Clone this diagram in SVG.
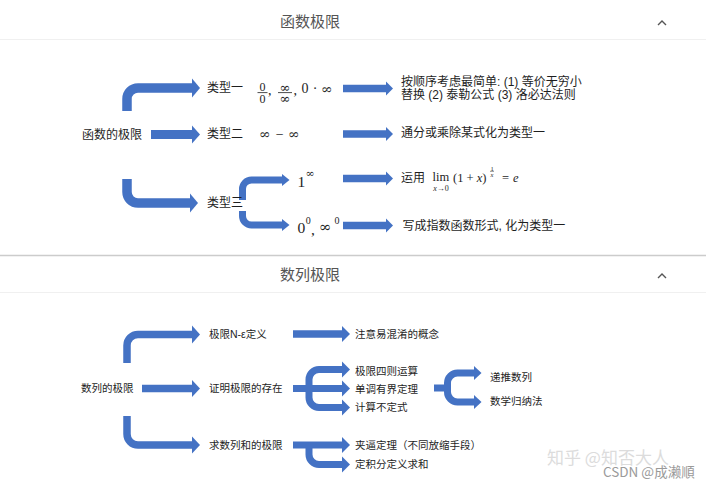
<svg xmlns="http://www.w3.org/2000/svg" width="720" height="488" viewBox="0 0 720 488">
<style>
.t{font-family:'Liberation Sans','Noto Sans CJK SC',sans-serif;fill:#1e1e1e;dominant-baseline:central}
.t1{font-size:12px}
.t2{font-size:10.5px}
.hd{font-family:'Noto Sans CJK SC',sans-serif;font-size:15px;fill:#555;text-anchor:middle;dominant-baseline:central}
.m{font-family:'Liberation Serif','DejaVu Serif',serif;fill:#1e1e1e;dominant-baseline:central}
.inf{font-family:'DejaVu Serif','Liberation Serif',serif;fill:#1e1e1e;dominant-baseline:central}
.i{font-style:italic}
.b{fill:none;stroke:#4472C4;stroke-linejoin:round}
.h{fill:#4472C4}
.car{fill:none;stroke:#555;stroke-width:1.4}
.wm{font-family:'Noto Sans CJK SC',sans-serif;dominant-baseline:central}
</style>
<rect width="720" height="488" fill="#fff"/>
<g id="header1">
<text class="hd" x="310" y="20">函数极限</text>
<polyline class="car" points="658,25 662,21 666,25"/>
<line x1="0" y1="39.5" x2="706" y2="39.5" stroke="#f0f0f0" stroke-width="1"/>
</g>
<g id="header2">
<line x1="0" y1="255.5" x2="706" y2="255.5" stroke="#cccccc" stroke-width="1.5"/>
<text class="hd" x="310" y="273">数列极限</text>
<polyline class="car" points="658,278 662,274 666,278"/>
<line x1="0" y1="292.5" x2="706" y2="292.5" stroke="#f0f0f0" stroke-width="1"/>
</g>
<g id="connectors">
<path class="b" stroke-width="9.5" d="M127 111 V99 A11 11 0 0 1 138 88 H192"/>
<polygon class="h" points="192,78.5 200,88 192,97.5"/>
<path class="b" stroke-width="9" d="M151 134.5 H192"/>
<polygon class="h" points="192,125.5 200,134.5 192,143.5"/>
<path class="b" stroke-width="9.5" d="M127 179 V192 A11 11 0 0 0 138 203 H190"/>
<polygon class="h" points="190,193.5 198,203 190,212.5"/>
<path class="b" stroke-width="7" d="M242.5 200 V189 A9 9 0 0 1 251.5 180 H282"/>
<polygon class="h" points="282,174 289.5,180 282,186"/>
<path class="b" stroke-width="7" d="M242.5 211 V216 A9 9 0 0 0 251.5 225 H282"/>
<polygon class="h" points="282,219 289.5,225 282,231"/>
<path class="b" stroke-width="7.5" d="M343 88.5 H386 M343 134 H386 M343 178.5 H386 M343 225.5 H386"/>
<polygon class="h" points="386,81.5 393,88.5 386,95.5"/>
<polygon class="h" points="386,127 393,134 386,141"/>
<polygon class="h" points="386,171.5 393,178.5 386,185.5"/>
<polygon class="h" points="386,218.5 393,225.5 386,232.5"/>

<path class="b" stroke-width="7.5" d="M127 363 V345.5 A11 11 0 0 1 138 334.5 H192"/>
<polygon class="h" points="192,325.5 200,334.5 192,343.5"/>
<path class="b" stroke-width="7.5" d="M142 388.5 H192"/>
<polygon class="h" points="192,380 200,388.5 192,397"/>
<path class="b" stroke-width="7.5" d="M127 416 V434 A11 11 0 0 0 138 445 H192"/>
<polygon class="h" points="192,436.5 200,445 192,453.5"/>
<path class="b" stroke-width="7.5" d="M293 334 H342"/>
<polygon class="h" points="342,326 350,334 342,342"/>
<path class="b" stroke-width="7" d="M293 388.5 H342 M342 369.5 H319 A10 10 0 0 0 309 379.5 V397.5 A10 10 0 0 0 319 407.5 H342"/>
<polygon class="h" points="342,361.5 350,369.5 342,377.5"/>
<polygon class="h" points="342,380.5 350,388.5 342,396.5"/>
<polygon class="h" points="342,399.5 350,407.5 342,415.5"/>
<path class="b" stroke-width="7" d="M293 445 H342 M309 445 V454.5 A10 10 0 0 0 319 464.5 H342"/>
<polygon class="h" points="342,437 350,445 342,453"/>
<polygon class="h" points="342,456.5 350,464.5 342,472.5"/>
<path class="b" stroke-width="7" d="M434 388 H447.5 M474 373 H457.5 A10 10 0 0 0 447.5 383 V392 A10 10 0 0 0 457.5 402 H474"/>
<polygon class="h" points="474,366 481.5,373 474,380"/>
<polygon class="h" points="474,395 481.5,402 474,409"/>
</g>

<g id="n-hanshu"><text class="t t1" x="82" y="135">函数的极限</text></g>
<g id="n-type1"><text class="t t1" x="207" y="88">类型一</text>
<text class="m" font-size="12" x="262.5" y="86.8" text-anchor="middle">0</text>
<line x1="257.5" y1="92.6" x2="267.5" y2="92.6" stroke="#1e1e1e" stroke-width="0.8"/>
<text class="m" font-size="12" x="262.5" y="98.6" text-anchor="middle">0</text>
<text class="m" font-size="14" x="268" y="90">,</text>
<text class="inf" font-size="13" x="285" y="87" text-anchor="middle">∞</text>
<line x1="278" y1="92.6" x2="292" y2="92.6" stroke="#1e1e1e" stroke-width="0.8"/>
<text class="inf" font-size="13" x="285" y="98.6" text-anchor="middle">∞</text>
<text class="m" font-size="14" x="293.5" y="90">,</text>
<text class="m" font-size="14" x="301.5" y="88.7">0</text>
<text class="m" font-size="14" x="315" y="88.7" text-anchor="middle">·</text>
<text class="inf" font-size="14" x="321" y="88.7">∞</text>
</g>
<g id="n-type2"><text class="t t1" x="207" y="134">类型二</text>
<text class="inf" font-size="14" x="259" y="134">∞</text>
<text class="m" font-size="14" x="279.7" y="134" text-anchor="middle">−</text>
<text class="inf" font-size="14" x="288" y="134">∞</text>
</g>
<g id="n-type3"><text class="t t1" x="207" y="203.3">类型三</text></g>
<g id="n-1inf">
<text class="m" font-size="15.5" x="297.5" y="181.7">1</text>
<text class="inf" font-size="11" x="305.5" y="173.3">∞</text>
</g>
<g id="n-00">
<text class="m" font-size="15.5" x="297.5" y="227">0</text>
<text class="m" font-size="10" x="305.8" y="220.3">0</text>
<text class="m" font-size="15.5" x="311" y="229">,</text>
<text class="inf" font-size="15" x="319" y="227">∞</text>
<text class="m" font-size="10" x="334.5" y="220.3">0</text>
</g>
<g id="n-r1">
<text class="t t1" x="401" y="81.7">按顺序考虑最简单: (1) 等价无穷小</text>
<text class="t t1" x="401" y="94.5">替换 (2) 泰勒公式 (3) 洛必达法则</text>
</g>
<g id="n-r2"><text class="t t1" x="401" y="133.3">通分或乘除某式化为类型一</text></g>
<g id="n-r3">
<text class="t t1" x="401" y="178.3">运用</text>
<text class="m" font-size="12.5" x="432.5" y="177">lim</text>
<text class="m" font-size="8" x="441" y="188.3" text-anchor="middle"><tspan class="i">x</tspan>→0</text>
<text class="m" font-size="12.5" x="453" y="178.3">(1 + <tspan class="i">x</tspan>)</text>
<text class="m" font-size="6.5" x="492" y="168.2" text-anchor="middle">1</text>
<line x1="490" y1="171.3" x2="494" y2="171.3" stroke="#1e1e1e" stroke-width="0.5"/>
<text class="m i" font-size="6.5" x="492" y="174.5" text-anchor="middle">x</text>
<text class="m" font-size="12.5" x="502" y="178.3">=</text>
<text class="m i" font-size="12.5" x="513" y="178.3">e</text>
</g>
<g id="n-r4"><text class="t t1" x="402.5" y="225.7">写成指数函数形式, 化为类型一</text></g>

<g id="n-shulie"><text class="t t2" x="81" y="388.3">数列的极限</text></g>
<g id="n-neps"><text class="t t2" x="209" y="334">极限N-ε定义</text></g>
<g id="n-zhengming"><text class="t t2" x="209" y="388.3">证明极限的存在</text></g>
<g id="n-qiuhe"><text class="t t2" x="209" y="445">求数列和的极限</text></g>
<g id="n-zhuyi"><text class="t t2" x="355" y="334">注意易混淆的概念</text></g>
<g id="n-sizhe"><text class="t t2" x="355" y="370.7">极限四则运算</text></g>
<g id="n-dandiao"><text class="t t2" x="355" y="389">单调有界定理</text></g>
<g id="n-jisuan"><text class="t t2" x="355" y="407.3">计算不定式</text></g>
<g id="n-jiabi"><text class="t t2" x="355" y="445">夹逼定理（不同放缩手段）</text></g>
<g id="n-dingjifen"><text class="t t2" x="355" y="463.5">定积分定义求和</text></g>
<g id="n-ditui"><text class="t t2" x="490" y="376.7">递推数列</text></g>
<g id="n-guina"><text class="t t2" x="490" y="400.7">数学归纳法</text></g>

<g id="watermark">
<text class="wm" font-size="17" x="547" y="456" fill="#dcdcdc">知乎 @知否大人</text>
<text class="wm" font-size="13.5" x="603" y="470.5" fill="#9a9a9a">CSDN @成濑順</text>
</g>
</svg>
